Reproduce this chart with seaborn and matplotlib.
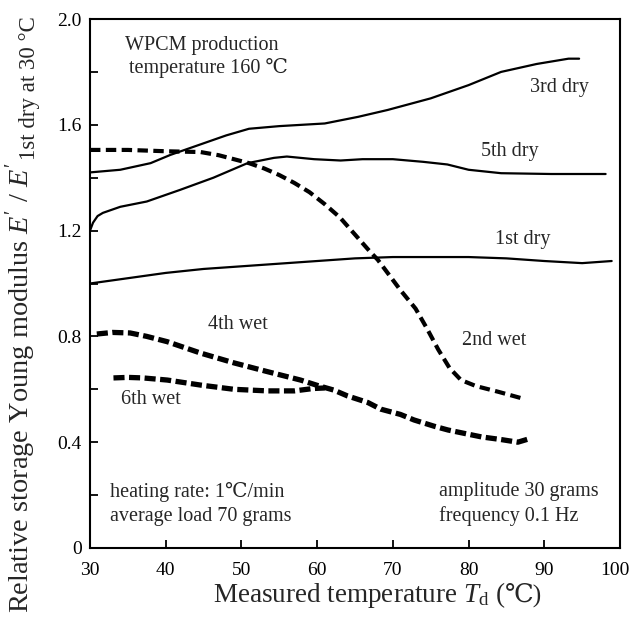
import numpy as np
import pandas as pd
import matplotlib
matplotlib.use("Agg")
import matplotlib.pyplot as plt
import matplotlib.transforms as mtransforms
import seaborn as sns
from matplotlib.ticker import FixedLocator

# ---------------- data ----------------
dry1_x = [30.0, 35, 40, 45, 50, 55, 60, 65, 70, 75, 80, 85, 90, 95, 98.9]
dry1_y = [1.00, 1.02, 1.04, 1.055, 1.065, 1.075, 1.085, 1.095, 1.10, 1.10, 1.10, 1.095, 1.085, 1.077, 1.085]

dry3_x = [30.0, 34, 38, 40.6, 44, 48, 51, 55, 58, 61, 65.4, 69.3, 75, 80, 84.3, 89, 93.2, 94.6]
dry3_y = [1.42, 1.43, 1.455, 1.486, 1.52, 1.56, 1.585, 1.595, 1.60, 1.605, 1.63, 1.656, 1.70, 1.75, 1.80, 1.83, 1.85, 1.85]

dry5_x = [30.0, 30.4, 31.0, 31.7, 34, 37.5, 41.9, 46.3, 50.8, 54.3, 56, 59.6, 63.1, 66, 70, 74, 77.2, 80, 84.3, 90.9, 98.1]
dry5_y = [1.20, 1.23, 1.255, 1.267, 1.29, 1.31, 1.354, 1.40, 1.455, 1.475, 1.48, 1.47, 1.465, 1.47, 1.47, 1.46, 1.45, 1.43, 1.417, 1.414, 1.414]

wet2_x = [30.0, 35, 40, 44.6, 47, 49, 51, 53, 55, 57, 59, 61, 63, 65, 67, 68, 69.7, 71, 73, 74.5, 76, 77.5, 79, 81, 84, 87.4]
wet2_y = [1.505, 1.505, 1.50, 1.497, 1.485, 1.47, 1.455, 1.435, 1.41, 1.38, 1.345, 1.30, 1.25, 1.185, 1.12, 1.09, 1.025, 0.975, 0.905, 0.83, 0.75, 0.68, 0.635, 0.612, 0.59, 0.563]

wet4_x = [30.9, 33, 35.3, 37.5, 40.2, 44.6, 49, 53.4, 57.8, 60, 62.2, 64, 66.7, 68.4, 71, 72.8, 75.5, 77.3, 80, 81.7, 84.3, 86.5, 87.9]
wet4_y = [0.809, 0.815, 0.813, 0.80, 0.78, 0.737, 0.70, 0.667, 0.635, 0.615, 0.597, 0.575, 0.55, 0.525, 0.505, 0.484, 0.46, 0.446, 0.43, 0.42, 0.41, 0.40, 0.412]

wet6_x = [33.1, 35, 37, 40.2, 44.6, 49, 53.4, 57, 59.5, 61]
wet6_y = [0.643, 0.645, 0.643, 0.635, 0.616, 0.60, 0.594, 0.594, 0.603, 0.605]

curve_names = ["1st dry", "3rd dry", "5th dry", "2nd wet", "4th wet", "6th wet"]

x_ticks = [30, 40, 50, 60, 70, 80, 90, 100]
y_ticks = [0, 0.4, 0.8, 1.2, 1.6, 2.0]
y_tick_labels = ["0", "0.4", "0.8", "1.2", "1.6", "2.0"]

# ---------------- styling ----------------
sns.set_theme(style="ticks")
FAM = ["Liberation Serif", "DejaVu Serif", "Noto Sans CJK JP"]
plt.rcParams["font.family"] = FAM
plt.rcParams["mathtext.fontset"] = "custom"
plt.rcParams["mathtext.rm"] = "Liberation Serif"
plt.rcParams["mathtext.it"] = "Liberation Serif:italic"
plt.rcParams["mathtext.fallback"] = "stix"

W, H = 633, 619
fig = plt.figure(figsize=(W / 100, H / 100), dpi=100)
ax = fig.add_axes([90 / W, 1 - 548 / H, 530 / W, 529 / H])

series = {
    "1st dry": (dry1_x, dry1_y),
    "3rd dry": (dry3_x, dry3_y),
    "5th dry": (dry5_x, dry5_y),
    "2nd wet": (wet2_x, wet2_y),
    "4th wet": (wet4_x, wet4_y),
    "6th wet": (wet6_x, wet6_y),
}
styles = {
    "1st dry": dict(lw=1.6, ls="-"),
    "3rd dry": dict(lw=1.6, ls="-"),
    "5th dry": dict(lw=1.6, ls="-"),
    "2nd wet": dict(lw=3.0, ls=(0, (2.5, 1.3))),
    "4th wet": dict(lw=3.8, ls=(0, (2.1, 0.85))),
    "6th wet": dict(lw=3.8, ls=(0, (2.1, 0.85))),
}
for name in curve_names:
    xs, ys = series[name]
    df = pd.DataFrame({"x": xs, "y": ys})
    st = styles[name]
    sns.lineplot(data=df, x="x", y="y", ax=ax, color="black", sort=False,
                 estimator=None, linewidth=st["lw"], linestyle=st["ls"],
                 legend=False)

ax.set_xlim(30, 100)
ax.set_ylim(0, 2.0)
ax.xaxis.set_major_locator(FixedLocator(x_ticks))
ax.yaxis.set_major_locator(FixedLocator(y_ticks))
ax.set_yticklabels(y_tick_labels)
ax.yaxis.set_minor_locator(FixedLocator([0.2, 0.6, 1.0, 1.4, 1.8]))
ax.tick_params(axis="both", which="both", direction="in", length=6, width=1.3,
               labelsize=14, colors="black")
ax.tick_params(axis="x", pad=10)
ax.tick_params(axis="y", pad=6)
for sp in ax.spines.values():
    sp.set_visible(True)
    sp.set_linewidth(1.5)
    sp.set_color("black")
ax.set_xlabel("")
ax.set_ylabel("")

fs = 14.5
ax.text(34.6, 1.90, "WPCM production", fontsize=fs, va="center")
ax.text(35.2, 1.815, "temperature 160 \u2103", fontsize=fs, va="center")
ax.text(92.0, 1.74, "3rd dry", fontsize=fs, ha="center", va="center")
ax.text(85.5, 1.50, "5th dry", fontsize=fs, ha="center", va="center")
ax.text(87.1, 1.165, "1st dry", fontsize=fs, ha="center", va="center")
ax.text(83.4, 0.786, "2nd wet", fontsize=fs, ha="center", va="center")
ax.text(49.5, 0.845, "4th wet", fontsize=fs, ha="center", va="center")
ax.text(38.1, 0.56, "6th wet", fontsize=fs, ha="center", va="center")
ax.text(32.6, 0.213, "heating rate: 1\u2103/min", fontsize=fs, va="center")
ax.text(32.6, 0.12, "average load 70 grams", fontsize=fs, va="center")
ax.text(76.1, 0.213, "amplitude 30 grams", fontsize=fs, va="center")
ax.text(76.1, 0.12, "frequency 0.1 Hz", fontsize=fs, va="center")

# ---------------- axis labels (built from pieces) ----------------
xl1 = fig.text(213 / W, 1 - 602 / H, "Measured temperature $T_{\\mathrm{d}}$ (",
               fontsize=19.5, ha="left", va="baseline")
fig.canvas.draw()
r = fig.canvas.get_renderer()
bb = xl1.get_window_extent(r)
fig.text(bb.x1 / W, 1 - 602 / H, "\u2103)", fontsize=18.5, ha="left",
         va="baseline", family=FAM)

fig.text(28.5 / W, 1 - 163 / H, "Relative storage Young modulus $E'$ / $E'$",
         fontsize=20.4, rotation=90, rotation_mode="anchor",
         ha="right", va="baseline")
fig.text(35 / W, 1 - 160 / H, "1st dry at 30 \u00b0C",
         fontsize=16.5, rotation=90, rotation_mode="anchor",
         ha="left", va="baseline")

# keep the "100" tick label inside the canvas (it touches the edge in the reference)
last = ax.get_xticklabels()[-1]
last.set_transform(last.get_transform() +
                   mtransforms.ScaledTranslation(-3.5 / 72, 0, fig.dpi_scale_trans))

fig.savefig("out.png", dpi=100)
